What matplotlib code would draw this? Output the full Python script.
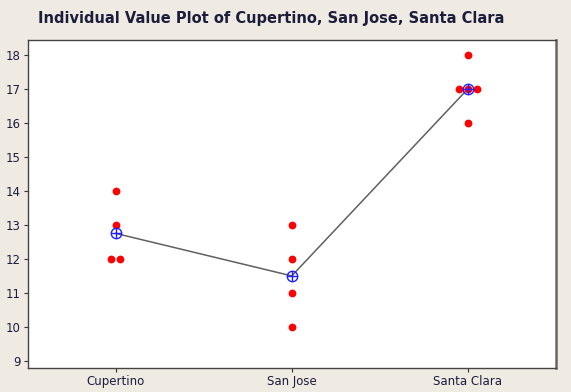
import matplotlib.pyplot as plt
import numpy as np

# data
categories = ["Cupertino", "San Jose", "Santa Clara"]
cupertino = [12, 12, 13, 14]
san_jose = [10, 11, 12, 13]
santa_clara = [16, 17, 17, 17, 18]
groups = [cupertino, san_jose, santa_clara]
y_ticks = list(range(9, 19))

bg = "#efebe2"
text_col = "#1c1c3c"

fig = plt.figure(figsize=(5.71, 3.92), dpi=100, facecolor=bg)
ax = fig.add_axes([0.0485, 0.062, 0.925, 0.837])
ax.set_facecolor("white")

# individual points, side by side when values repeat
step = 0.05
for i, vals in enumerate(groups, start=1):
    uniq, counts = np.unique(vals, return_counts=True)
    for v, c in zip(uniq, counts):
        offs = (np.arange(c) - (c - 1) / 2) * step
        ax.plot(i + offs, [v] * c, "o", color="#ff0000", markersize=5.6,
                markeredgewidth=0, zorder=3)

# mean connect line
means = [np.mean(g) for g in groups]
xs = np.arange(1, len(categories) + 1)
ax.plot(xs, means, color="#606060", linewidth=1.1, zorder=2)
ax.plot(xs, means, "o", markerfacecolor="none", markeredgecolor="#2020ff",
        markersize=7.5, markeredgewidth=1.0, zorder=4)
ax.plot(xs, means, "+", color="#2020ff", markersize=7.5,
        markeredgewidth=1.0, zorder=4)

ax.set_xlim(0.5, 3.5)
ax.set_ylim(8.8, 18.45)
ax.set_xticks(xs)
ax.set_xticklabels(categories)
ax.set_yticks(y_ticks)

ax.tick_params(axis="both", direction="out", length=3, width=0.8,
               color="#333333", labelsize=8.5, labelcolor=text_col, pad=2)
for side, sp in ax.spines.items():
    sp.set_color("#444444")
    sp.set_linewidth(1.0)
ax.spines["right"].set_color("#666666")
ax.spines["right"].set_linewidth(1.8)

fig.text(271 / 571, 0.954, "Individual Value Plot of Cupertino, San Jose, Santa Clara",
         ha="center", va="center", fontsize=10.5, fontweight="bold", color=text_col)

plt.savefig("out.png", dpi=100, facecolor=bg)
plt.close()
